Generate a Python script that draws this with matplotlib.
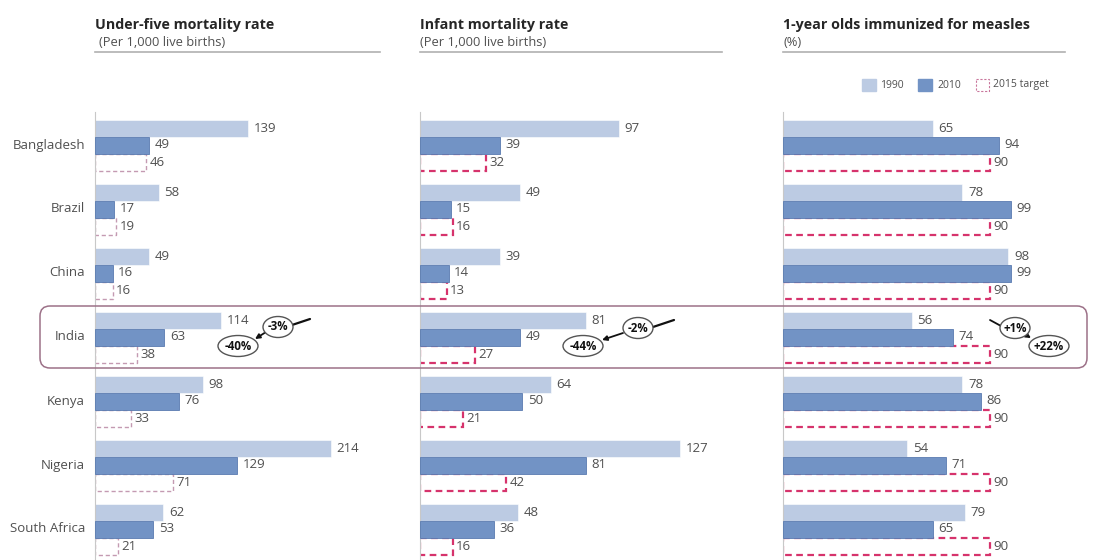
import matplotlib
matplotlib.use("Agg")
import matplotlib.pyplot as plt
from matplotlib.patches import FancyBboxPatch, Ellipse, Rectangle
import numpy as np

plt.rcParams['font.family'] = ['Open Sans', 'DejaVu Sans']

countries = ["Bangladesh", "Brazil", "China", "India", "Kenya", "Nigeria", "South Africa"]

u5_1990 = [139, 58, 49, 114, 98, 214, 62]
u5_2010 = [49, 17, 16, 63, 76, 129, 53]
u5_target = [46, 19, 16, 38, 33, 71, 21]

im_1990 = [97, 49, 39, 81, 64, 127, 48]
im_2010 = [39, 15, 14, 49, 50, 81, 36]
im_target = [32, 16, 13, 27, 21, 42, 16]

me_1990 = [65, 78, 98, 56, 78, 54, 79]
me_2010 = [94, 99, 99, 74, 86, 71, 65]
me_target = [90, 90, 90, 90, 90, 90, 90]

titles = ["Under-five mortality rate", "Infant mortality rate", "1-year olds immunized for measles"]
subtitles = ["(Per 1,000 live births)", "(Per 1,000 live births)", "(%)"]
legend_labels = ["1990", "2010", "2015 target"]

C1990 = "#bccbe3"
C2010 = "#7293c5"
E2010 = "#5a7bb0"
TXT = "#505050"

W, H = 1094, 560
fig = plt.figure(figsize=(W / 100, H / 100), dpi=100)

def fx(px):
    return px / W

def fy(py):
    return 1 - py / H

# panel definitions: (left px, px per unit, right px, data, target color, target lw)
panels = [
    (95, 1.103, 400, (u5_1990, u5_2010, u5_target), "#c49ab2", 1.0),
    (420, 2.047, 760, (im_1990, im_2010, im_target), "#d6336c", 1.6),
    (783, 2.30, 1094, (me_1990, me_2010, me_target), "#d6336c", 1.6),
]

top_px, bot_px = 112, 560
row0 = 145
rowstep = 64
off = 17 / rowstep
bh = 17 / rowstep
y_top = (top_px - row0) / rowstep
y_bot = (bot_px - row0) / rowstep
yy = np.arange(len(countries))

VFS = 9.5

axes = []
for k, (lpx, scale, rpx, data, tcol, tlw) in enumerate(panels):
    ax = fig.add_axes([fx(lpx), fy(bot_px), fx(rpx - lpx), (bot_px - top_px) / H])
    ax.set_xlim(0, (rpx - lpx) / scale)
    ax.set_ylim(y_bot, y_top)
    for s in ["top", "right", "bottom"]:
        ax.spines[s].set_visible(False)
    ax.spines["left"].set_color("#c8c8c8")
    ax.spines["left"].set_linewidth(0.8)
    ax.set_xticks([])
    ax.set_yticks([])
    ax.patch.set_alpha(0)
    v90, v10, vt = data
    ax.barh(yy - off, v90, height=bh, color=C1990, edgecolor="white", linewidth=0.4, zorder=2)
    ax.barh(yy + off, vt, height=bh, fill=False, edgecolor=tcol, linewidth=tlw,
            linestyle=(0, (3, 2)), zorder=1)
    ax.barh(yy, v10, height=bh, color=C2010, edgecolor=E2010, linewidth=0.6, zorder=3)
    for i in range(len(countries)):
        ax.annotate(str(v90[i]), (v90[i], yy[i] - off), xytext=(4, 0), textcoords="offset points",
                    va="center", ha="left", fontsize=VFS, color=TXT)
        ax.annotate(str(v10[i]), (v10[i], yy[i]), xytext=(4, 0), textcoords="offset points",
                    va="center", ha="left", fontsize=VFS, color=TXT)
        ax.annotate(str(vt[i]), (vt[i], yy[i] + off), xytext=(2.5, 0), textcoords="offset points",
                    va="center", ha="left", fontsize=VFS, color=TXT)
    axes.append(ax)

# country labels
for i, c in enumerate(countries):
    fig.text(fx(85), fy(row0 + rowstep * i), c, ha="right", va="center", fontsize=9.5, color=TXT)

# overlay axes in pixel coordinates for titles, legend, highlight box, annotations
ov = fig.add_axes([0, 0, 1, 1])
ov.set_xlim(0, W)
ov.set_ylim(H, 0)
ov.axis("off")
ov.patch.set_alpha(0)

title_x = [95, 420, 783]
line_end = [380, 722, 1065]
sub_x = [99, 420, 783]
for k in range(3):
    ov.text(title_x[k], 25, titles[k], fontsize=10.3, fontweight="bold", color="#262626",
            ha="left", va="center")
    ov.text(sub_x[k], 42, subtitles[k], fontsize=9.3, color=TXT, ha="left", va="center")
    ov.plot([title_x[k], line_end[k]], [52, 52], color="#b0b0b0", lw=1.2)

# legend
ov.add_patch(Rectangle((862, 79), 14, 12, color=C1990))
ov.text(880, 85, legend_labels[0], fontsize=7.5, color=TXT, va="center")
ov.add_patch(Rectangle((918, 79), 14, 12, color=C2010))
ov.text(937, 85, legend_labels[1], fontsize=7.5, color=TXT, va="center")
ov.add_patch(Rectangle((976, 79), 13, 12, fill=False, edgecolor="#c9769c", lw=0.8, linestyle=(0, (2, 1.5))))
ov.text(993, 85, legend_labels[2], fontsize=7.5, color=TXT, va="center")

# India highlight box
ov.add_patch(FancyBboxPatch((40, 306), 1047, 62, boxstyle="round,pad=0,rounding_size=10",
                            fill=False, edgecolor="#9c7188", lw=1.1, zorder=5))

def bubble(x, y, txt, w):
    ov.add_patch(Ellipse((x, y), w, 21, fill=True, facecolor="white", edgecolor="#555555", lw=1.0, zorder=6))
    ov.text(x, y, txt, ha="center", va="center", fontsize=8.3, fontweight="bold", color="#111111", zorder=7)

def arrow(x0, y0, x1, y1, lw=1.3, head=True):
    ov.annotate("", xy=(x1, y1), xytext=(x0, y0),
                arrowprops=dict(arrowstyle="-|>" if head else "-", color="#111111", lw=lw,
                                mutation_scale=7, shrinkA=0, shrinkB=0), zorder=6)

# panel 1
arrow(310, 319, 292, 325, lw=1.6, head=False)
arrow(266, 332, 255, 339)
bubble(278, 327, "-3%", 30)
bubble(238, 346, "-40%", 40)
# panel 2
arrow(674, 320, 653, 327, lw=1.6, head=False)
arrow(623, 333, 602, 340)
bubble(638, 328, "-2%", 30)
bubble(583, 346, "-44%", 40)
# panel 3
arrow(990, 320, 1001, 326, head=False)
arrow(1026, 335, 1031, 338)
bubble(1015, 328, "+1%", 30)
bubble(1049, 346, "+22%", 40)

fig.savefig("out.png", dpi=100, facecolor="white")
